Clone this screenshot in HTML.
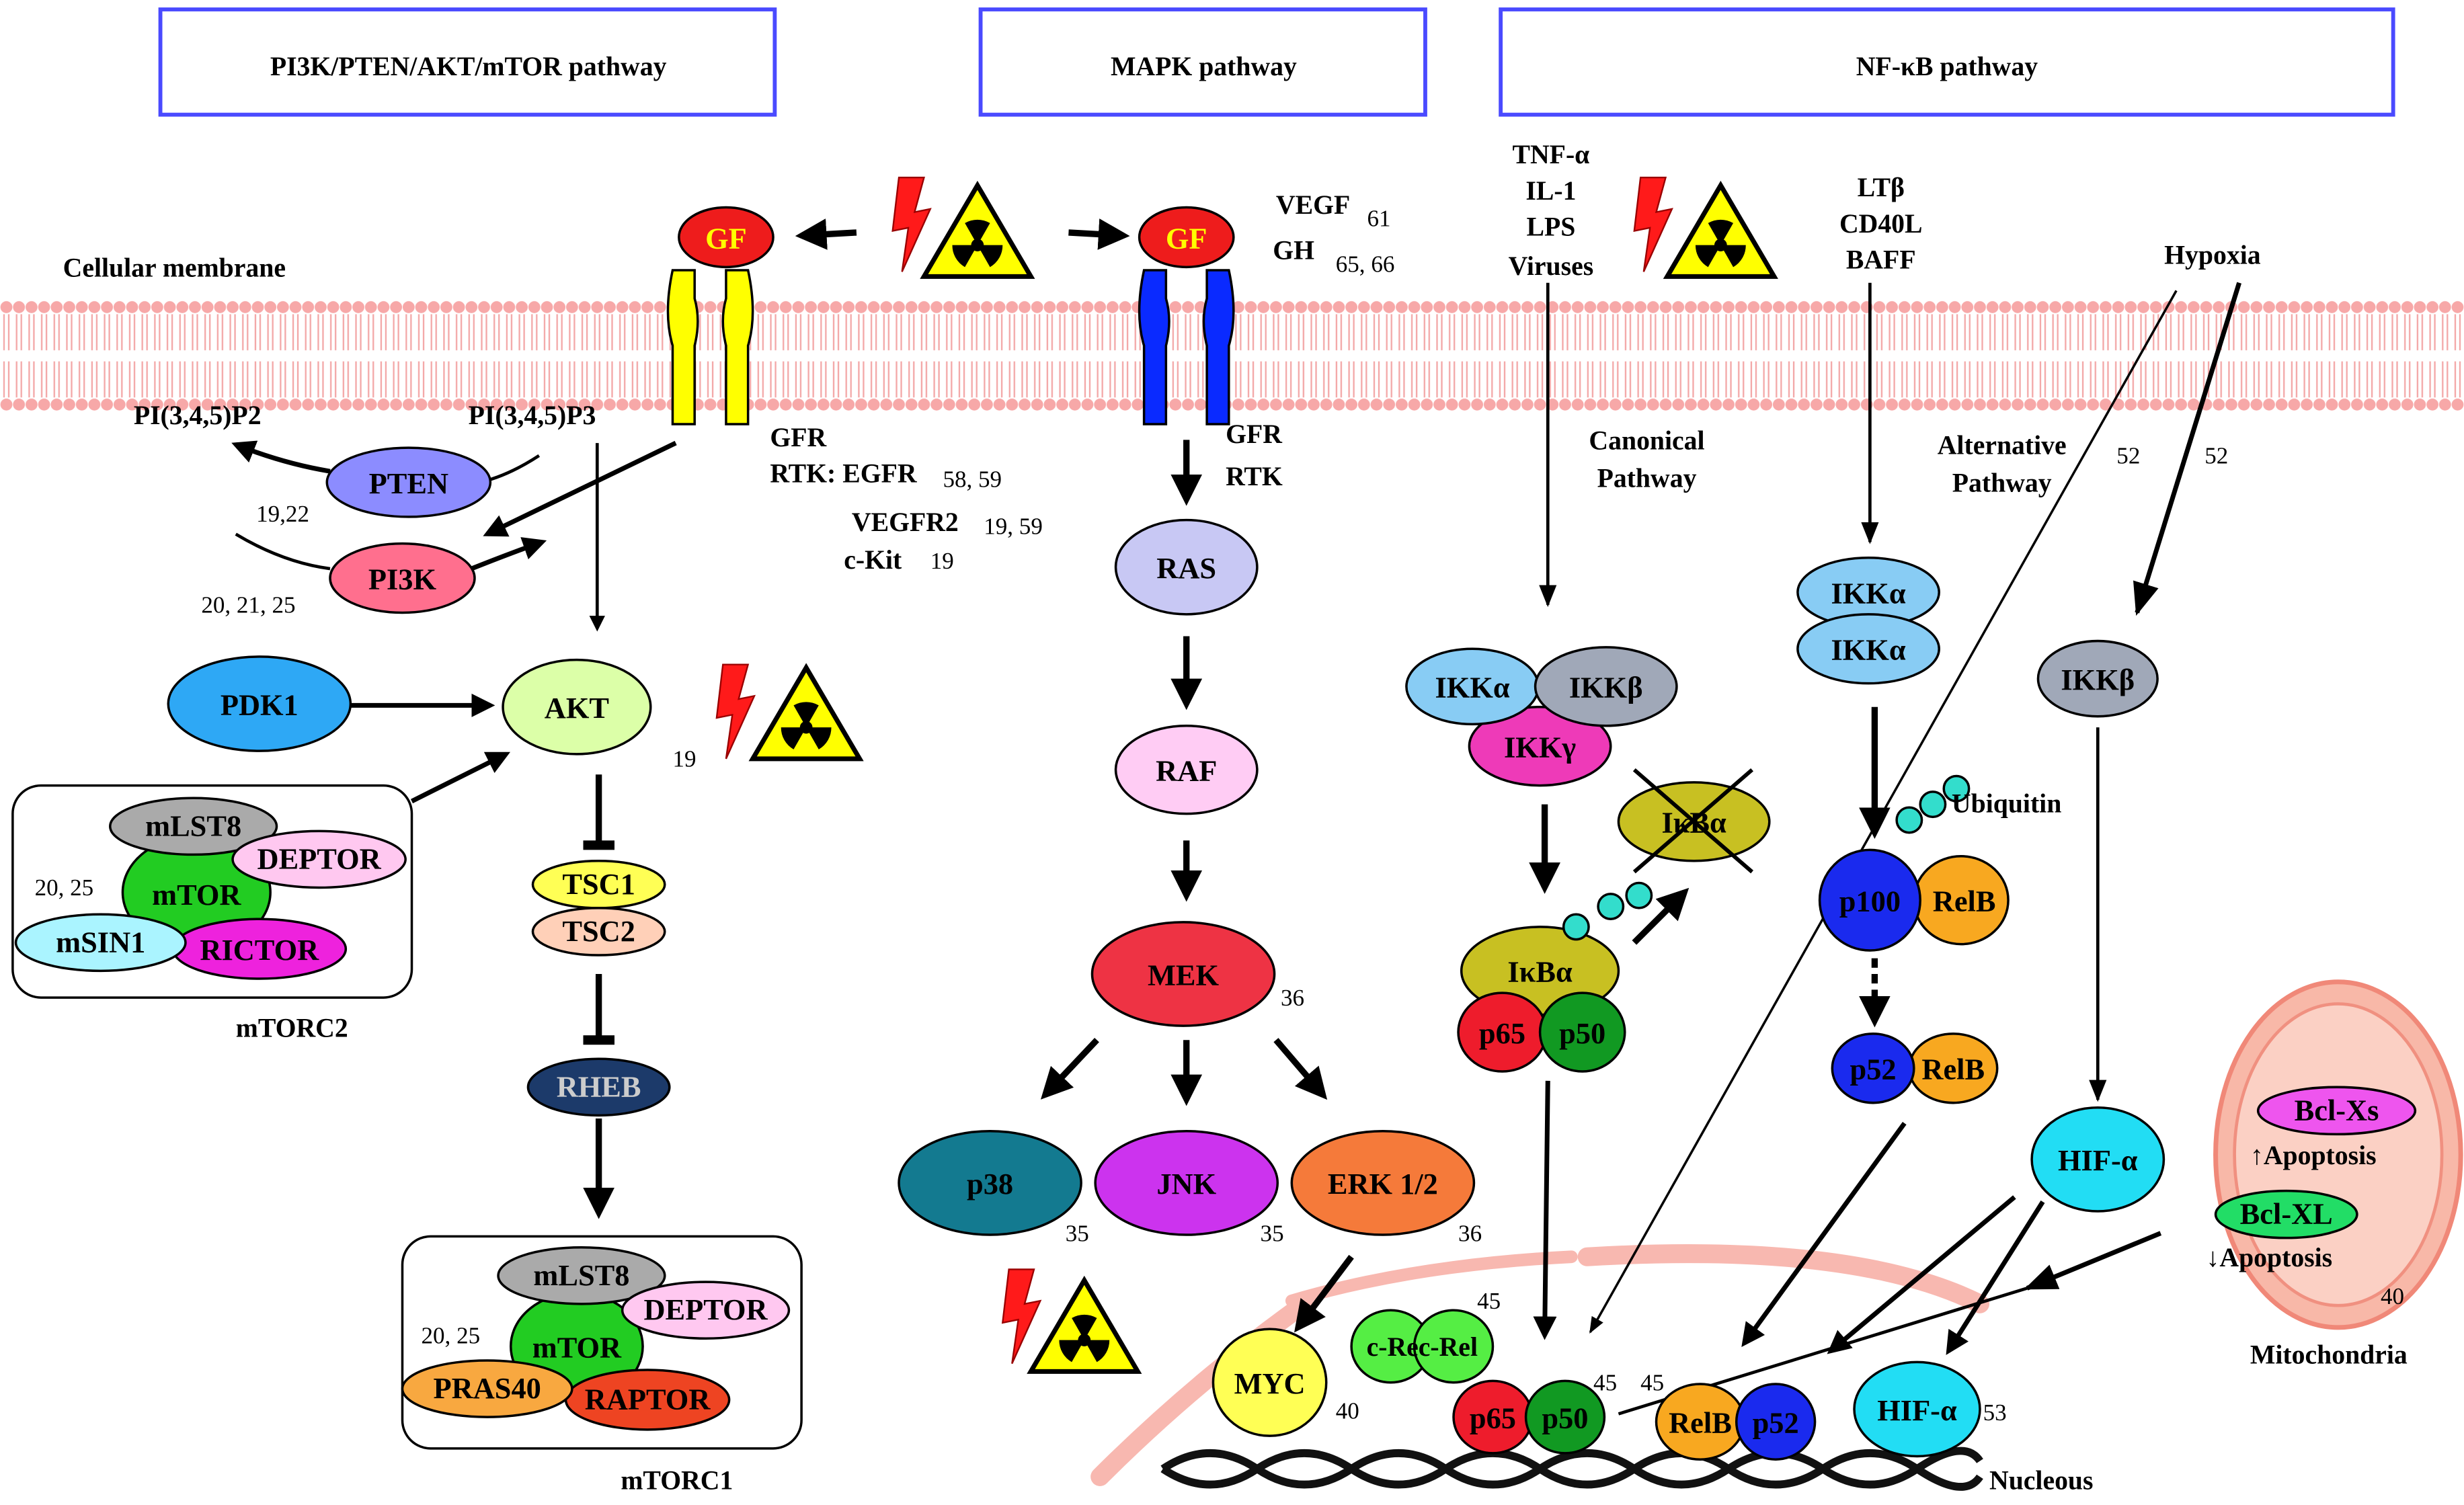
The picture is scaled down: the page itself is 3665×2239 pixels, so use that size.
<!DOCTYPE html>
<html><head><meta charset="utf-8"><style>
html,body{margin:0;padding:0;background:#fff}
svg{display:block}
text{font-family:"Liberation Serif",serif;font-weight:bold;fill:#000}
.n{font-weight:normal}
</style></head><body>
<svg width="3665" height="2239" viewBox="0 0 1568 958" xmlns="http://www.w3.org/2000/svg">
<defs>
<marker id="ar" viewBox="0 0 10 10" refX="8" refY="5" markerWidth="5" markerHeight="5" orient="auto"><path d="M0,0L10,5L0,10z" fill="#000"/></marker>
<marker id="tb" viewBox="0 0 10 10" refX="5" refY="5" markerWidth="5" markerHeight="5" orient="auto"><path d="M5,-2V12" stroke="#000" stroke-width="3"/></marker>
<marker id="al" viewBox="0 0 10 10" refX="9" refY="5" markerWidth="7" markerHeight="10" orient="auto"><path d="M0,1L10,5L0,9z" fill="#000"/></marker>
<g id="rad"><polygon points="0,-30 34,28 -34,28" fill="#ffff00" stroke="#000" stroke-width="3"/><circle r="4" cy="8" fill="#000"/><path d="M0,8 L-8,-6 A16,16 0 0 1 8,-6Z M0,8 L16,8 A16,16 0 0 1 8,22Z M0,8 L-8,22 A16,16 0 0 1 -16,8Z" fill="#000"/></g>
<g id="bolt"><polygon points="-8,-32 8,-32 2,-10 12,-12 -6,28 -2,0 -12,2" fill="#ff1a1a" stroke="#900" stroke-width="1"/></g>
<pattern id="tails" width="8" height="53" patternUnits="userSpaceOnUse" y="200">
<path d="M2.5,0V23 M5.5,0V23 M2.5,30V53 M5.5,30V53" stroke="#f3a8a8" stroke-width="1"/>
</pattern>
<pattern id="heads" width="8" height="9" patternUnits="userSpaceOnUse" x="0" y="191">
<circle cx="4" cy="4.5" r="3.8" fill="#f7a8a8"/>
</pattern>
<pattern id="heads2" width="8" height="9" patternUnits="userSpaceOnUse" x="0" y="253">
<circle cx="4" cy="4.5" r="3.8" fill="#f7a8a8"/>
</pattern>
</defs>
<!-- header boxes -->
<g fill="#fff" stroke="#4a4aff" stroke-width="2.5">
<rect x="102" y="6" width="391" height="67"/><rect x="624" y="6" width="283" height="67"/><rect x="955" y="6" width="568" height="67"/></g>
<text x="298" y="48" font-size="17" text-anchor="middle">PI3K/PTEN/AKT/mTOR pathway</text>
<text x="766" y="48" font-size="17" text-anchor="middle">MAPK pathway</text>
<text x="1239" y="48" font-size="17" text-anchor="middle">NF-κB pathway</text>
<!-- membrane -->
<rect x="0" y="191" width="1568" height="9" fill="url(#heads)"/>
<rect x="0" y="253" width="1568" height="9" fill="url(#heads2)"/>
<rect x="0" y="200" width="1568" height="53" fill="url(#tails)"/>
<text x="40" y="176" font-size="17">Cellular membrane</text>
<!-- receptors -->
<path d="M428,172 h14 v18 q4,14 0,30 v50 h-14 v-50 q-6,-20 0,-48z M476,172 h-14 v18 q-4,14 0,30 v50 h14 v-50 q6,-20 0,-48z" fill="#ffff00" stroke="#000" stroke-width="1.5"/>
<path d="M728,172 h14 v18 q4,14 0,30 v50 h-14 v-50 q-6,-20 0,-48z M782,172 h-14 v18 q-4,14 0,30 v50 h14 v-50 q6,-20 0,-48z" fill="#0a2aff" stroke="#000" stroke-width="1.5"/>
<g stroke="#000" stroke-width="1.5">
<ellipse cx="462" cy="151" rx="30" ry="19" fill="#ee1c1c"/>
<ellipse cx="755" cy="151" rx="30" ry="19" fill="#ee1c1c"/></g>
<text x="462" y="158" font-size="19" text-anchor="middle" style="fill:#ff0">GF</text>
<text x="755" y="158" font-size="19" text-anchor="middle" style="fill:#ff0">GF</text>
<use href="#bolt" x="580" y="145"/><use href="#rad" x="622" y="148"/>
<use href="#bolt" x="1052" y="145"/><use href="#rad" x="1095" y="148"/>
<use href="#bolt" x="468" y="455"/><use href="#rad" x="513" y="455"/>
<use href="#bolt" x="650" y="840"/><use href="#rad" x="690" y="845"/>
<!-- nucleus -->
<path d="M700,940 Q760,880 830,830" fill="none" stroke="#f8b8b0" stroke-width="12" stroke-linecap="round"/>
<path d="M822,828 Q900,805 1000,800" fill="none" stroke="#f8b8b0" stroke-width="8" stroke-linecap="round"/>
<path d="M1010,800 Q1180,790 1260,830" fill="none" stroke="#f8b8b0" stroke-width="12" stroke-linecap="round"/>
<g stroke="#000" stroke-width="4" fill="none" marker-end="url(#ar)">
<path d="M545,148 L510,150"/><path d="M680,148 L715,150"/>
<path d="M343,290 Q320,305 300,308" marker-end="none" stroke-width="2"/>
<path d="M210,300 Q180,295 150,283" stroke-width="3"/>
<path d="M150,340 Q180,358 210,362" marker-end="none" stroke-width="2"/>
<path d="M300,362 Q325,352 345,345" stroke-width="3"/>
<path d="M430,282 L310,340" stroke-width="3"/>
<path d="M380,282 L380,400" stroke-width="2"/>
<path d="M215,449 L312,449" stroke-width="3"/>
<path d="M262,510 L322,480" stroke-width="3"/>
<path d="M381,493 L381,538" marker-end="url(#tb)"/>
<path d="M381,620 L381,662" marker-end="url(#tb)"/>
<path d="M381,712 L381,772"/>
<path d="M755,280 L755,318"/><path d="M755,405 L755,448"/><path d="M755,535 L755,570"/>
<path d="M698,662 L665,697"/><path d="M755,662 L755,700"/><path d="M812,662 L842,697"/>
<path d="M860,800 L826,845"/>
<path d="M985,180 L985,385" stroke-width="2" marker-end="url(#al)"/>
<path d="M1190,180 L1190,345" stroke-width="2" marker-end="url(#al)"/>
<path d="M1425,180 L1360,390" stroke-width="3" marker-end="url(#al)"/>
<path d="M1385,185 L1012,848" stroke-width="1.5" marker-end="url(#al)"/>
<path d="M983,512 L983,565"/>
<path d="M1040,600 L1072,568"/>
<path d="M1193,450 L1193,530"/>
<path d="M1193,610 L1193,650" stroke-dasharray="6 4"/>
<path d="M1335,463 L1335,700" stroke-width="2" marker-end="url(#al)"/>
<path d="M985,688 L983,850" stroke-width="3"/>
<path d="M1212,715 L1110,855" stroke-width="3"/>
<path d="M1282,762 L1165,860" stroke-width="3"/>
<path d="M1300,765 L1240,860" stroke-width="3"/>
<path d="M1375,785 L1290,820" stroke-width="3" marker-end="url(#al)"/>
<path d="M1290,820 L1030,900" stroke-width="2" marker-end="none"/>
</g>
<!-- mTORC boxes -->
<rect x="8" y="500" width="254" height="135" rx="18" fill="#fff" stroke="#000" stroke-width="1.5"/>
<rect x="256" y="787" width="254" height="135" rx="18" fill="#fff" stroke="#000" stroke-width="1.5"/>
<text x="150" y="660" font-size="17">mTORC2</text>
<text x="395" y="948" font-size="17">mTORC1</text>
<!-- DNA -->
<g fill="none" stroke="#111" stroke-width="5">
<path d="M740,935 Q770,915 800,935 T860,935 T920,935 T980,935 T1040,935 T1100,935 T1160,935 T1220,935 T1260,930"/>
<path d="M740,935 Q770,955 800,935 T860,935 T920,935 T980,935 T1040,935 T1100,935 T1160,935 T1220,935 T1260,940"/>
</g>
<text x="1266" y="948" font-size="17">Nucleous</text>
<!-- mitochondria -->
<ellipse cx="1488" cy="735" rx="78" ry="110" fill="#f8b8a8" stroke="#f08878" stroke-width="3"/>
<ellipse cx="1488" cy="735" rx="66" ry="96" fill="#fbd0c4" stroke="#f09080" stroke-width="2"/>
<text x="1482" y="868" font-size="17" text-anchor="middle">Mitochondria</text>
<text x="1515" y="830" font-size="15" class="n">40</text>
<!-- nodes -->
<g stroke="#000" stroke-width="1.5">
<ellipse cx="260" cy="307" rx="52" ry="22" fill="#8c8cff"/>
<ellipse cx="256" cy="368" rx="46" ry="22" fill="#ff6f8e"/>
<ellipse cx="165" cy="448" rx="58" ry="30" fill="#2ea8f5"/>
<ellipse cx="367" cy="450" rx="47" ry="30" fill="#dcffa8"/>
<ellipse cx="125" cy="568" rx="47" ry="36" fill="#22cc22"/>
<ellipse cx="123" cy="526" rx="53" ry="18" fill="#aaaaaa"/>
<ellipse cx="203" cy="547" rx="55" ry="18" fill="#ffc8f0"/>
<ellipse cx="165" cy="604" rx="55" ry="19" fill="#ee22dd"/>
<ellipse cx="64" cy="600" rx="54" ry="18" fill="#aaf4ff"/>
<ellipse cx="381" cy="563" rx="42" ry="15" fill="#ffff55"/>
<ellipse cx="381" cy="593" rx="42" ry="15" fill="#ffd0b8"/>
<ellipse cx="381" cy="692" rx="45" ry="18" fill="#1c3a6a"/>
<ellipse cx="367" cy="857" rx="42" ry="34" fill="#22cc22"/>
<ellipse cx="370" cy="812" rx="53" ry="18" fill="#aaaaaa"/>
<ellipse cx="449" cy="834" rx="53" ry="18" fill="#ffc8f0"/>
<ellipse cx="412" cy="891" rx="52" ry="19" fill="#ee4422"/>
<ellipse cx="310" cy="884" rx="54" ry="18" fill="#f8a840"/>
<ellipse cx="755" cy="361" rx="45" ry="30" fill="#c8c8f4"/>
<ellipse cx="755" cy="490" rx="45" ry="28" fill="#ffccf4"/>
<ellipse cx="753" cy="620" rx="58" ry="33" fill="#ee3344"/>
<ellipse cx="630" cy="753" rx="58" ry="33" fill="#137a90"/>
<ellipse cx="755" cy="753" rx="58" ry="33" fill="#cc33ee"/>
<ellipse cx="880" cy="753" rx="58" ry="33" fill="#f57a3a"/>
<ellipse cx="808" cy="880" rx="36" ry="34" fill="#ffff55"/>
<ellipse cx="980" cy="475" rx="45" ry="25" fill="#ee3ab8"/>
<ellipse cx="937" cy="437" rx="42" ry="24" fill="#88ccf4"/>
<ellipse cx="1022" cy="437" rx="45" ry="25" fill="#a0a8b8"/>
<ellipse cx="1078" cy="523" rx="48" ry="25" fill="#c8c022"/>
<ellipse cx="980" cy="618" rx="50" ry="28" fill="#c8c022"/>
<ellipse cx="956" cy="657" rx="28" ry="25" fill="#ee1c2c"/>
<ellipse cx="1007" cy="657" rx="27" ry="25" fill="#119922"/>
<ellipse cx="1189" cy="377" rx="45" ry="22" fill="#88ccf4"/>
<ellipse cx="1189" cy="413" rx="45" ry="22" fill="#88ccf4"/>
<ellipse cx="1248" cy="573" rx="30" ry="28" fill="#f8a820"/>
<ellipse cx="1190" cy="573" rx="32" ry="32" fill="#1a2aee"/>
<ellipse cx="1243" cy="680" rx="28" ry="22" fill="#f8a820"/>
<ellipse cx="1192" cy="680" rx="26" ry="22" fill="#1a2aee"/>
<ellipse cx="1335" cy="432" rx="38" ry="24" fill="#a0a8b8"/>
<ellipse cx="1335" cy="738" rx="42" ry="33" fill="#22ddf4"/>
<ellipse cx="1487" cy="707" rx="50" ry="15" fill="#ee55ee"/>
<ellipse cx="1455" cy="773" rx="45" ry="15" fill="#22dd66"/>
<ellipse cx="885" cy="857" rx="25" ry="23" fill="#55ee44"/>
<ellipse cx="925" cy="857" rx="25" ry="23" fill="#55ee44"/>
<ellipse cx="950" cy="902" rx="25" ry="23" fill="#ee1c2c"/>
<ellipse cx="996" cy="902" rx="25" ry="23" fill="#119922"/>
<ellipse cx="1082" cy="905" rx="28" ry="24" fill="#f8a820"/>
<ellipse cx="1130" cy="905" rx="25" ry="24" fill="#1a2aee"/>
<ellipse cx="1220" cy="897" rx="40" ry="30" fill="#22ddf4"/>
<g fill="#33ddcc"><circle cx="1003" cy="590" r="8"/><circle cx="1025" cy="577" r="8"/><circle cx="1043" cy="570" r="8"/>
<circle cx="1215" cy="522" r="8"/><circle cx="1230" cy="512" r="8"/><circle cx="1245" cy="502" r="8"/></g>
</g>
<path d="M1040,490 L1115,555 M1115,490 L1040,555" stroke="#000" stroke-width="2.5"/>
<!-- node labels -->
<g font-size="19" text-anchor="middle">
<text x="260" y="314">PTEN</text><text x="256" y="375">PI3K</text><text x="165" y="455">PDK1</text><text x="367" y="457">AKT</text>
<text x="123" y="532">mLST8</text><text x="203" y="553">DEPTOR</text><text x="125" y="576">mTOR</text><text x="64" y="606">mSIN1</text><text x="165" y="611">RICTOR</text>
<text x="381" y="569">TSC1</text><text x="381" y="599">TSC2</text><text x="381" y="698" style="fill:#ccc">RHEB</text>
<text x="370" y="818">mLST8</text><text x="449" y="840">DEPTOR</text><text x="367" y="864">mTOR</text><text x="310" y="890">PRAS40</text><text x="412" y="897">RAPTOR</text>
<text x="755" y="368">RAS</text><text x="755" y="497">RAF</text><text x="753" y="627">MEK</text><text x="630" y="760">p38</text><text x="755" y="760">JNK</text><text x="880" y="760">ERK 1/2</text><text x="808" y="887">MYC</text>
<text x="937" y="444">IKKα</text><text x="1022" y="444">IKKβ</text><text x="980" y="482">IKKγ</text><text x="1078" y="530">IκBα</text>
<text x="980" y="625">IκBα</text><text x="956" y="664">p65</text><text x="1007" y="664">p50</text>
<text x="1189" y="384">IKKα</text><text x="1189" y="420">IKKα</text><text x="1190" y="580">p100</text><text x="1250" y="580">RelB</text>
<text x="1192" y="687">p52</text><text x="1243" y="687">RelB</text><text x="1335" y="439">IKKβ</text><text x="1335" y="745">HIF-α</text>
<text x="1487" y="713">Bcl-Xs</text><text x="1455" y="779">Bcl-XL</text>
<text x="905" y="863" font-size="17">c-Rec-Rel</text><text x="950" y="909">p65</text><text x="996" y="909">p50</text><text x="1082" y="912">RelB</text><text x="1130" y="912">p52</text><text x="1220" y="904">HIF-α</text>
</g>
<g font-size="17">
<text x="1432" y="741">↑Apoptosis</text><text x="1404" y="806">↓Apoptosis</text>
<text x="85" y="270">PI(3,4,5)P2</text><text x="298" y="270">PI(3,4,5)P3</text>
<text x="490" y="284">GFR</text><text x="490" y="307">RTK: EGFR</text><text x="542" y="338">VEGFR2</text><text x="537" y="362">c-Kit</text>
<text x="780" y="282">GFR</text><text x="780" y="309">RTK</text>
<text x="812" y="136">VEGF</text><text x="810" y="165">GH</text>
<text x="987" y="104" text-anchor="middle">TNF-α</text><text x="987" y="127" text-anchor="middle">IL-1</text><text x="987" y="150" text-anchor="middle">LPS</text><text x="987" y="175" text-anchor="middle">Viruses</text>
<text x="1197" y="125" text-anchor="middle">LTβ</text><text x="1197" y="148" text-anchor="middle">CD40L</text><text x="1197" y="171" text-anchor="middle">BAFF</text>
<text x="1408" y="168" text-anchor="middle">Hypoxia</text>
<text x="1048" y="286" text-anchor="middle">Canonical</text><text x="1048" y="310" text-anchor="middle">Pathway</text>
<text x="1274" y="289" text-anchor="middle">Alternative</text><text x="1274" y="313" text-anchor="middle">Pathway</text>
<text x="1242" y="517">Ubiquitin</text>
</g>
<g font-size="15">
<text x="163" y="332" class="n">19,22</text><text x="128" y="390" class="n">20, 21, 25</text><text x="428" y="488" class="n">19</text>
<text x="22" y="570" class="n">20, 25</text><text x="268" y="855" class="n">20, 25</text>
<text x="600" y="310" class="n">58, 59</text><text x="626" y="340" class="n">19, 59</text><text x="592" y="362" class="n">19</text>
<text x="870" y="144" class="n">61</text><text x="850" y="173" class="n">65, 66</text>
<text x="815" y="640" class="n">36</text><text x="678" y="790" class="n">35</text><text x="802" y="790" class="n">35</text><text x="928" y="790" class="n">36</text>
<text x="850" y="903" class="n">40</text><text x="940" y="833" class="n">45</text><text x="1014" y="885" class="n">45</text><text x="1044" y="885" class="n">45</text><text x="1262" y="904" class="n">53</text>
<text x="1347" y="295" class="n">52</text><text x="1403" y="295" class="n">52</text>
</g>
</svg>
</body></html>
